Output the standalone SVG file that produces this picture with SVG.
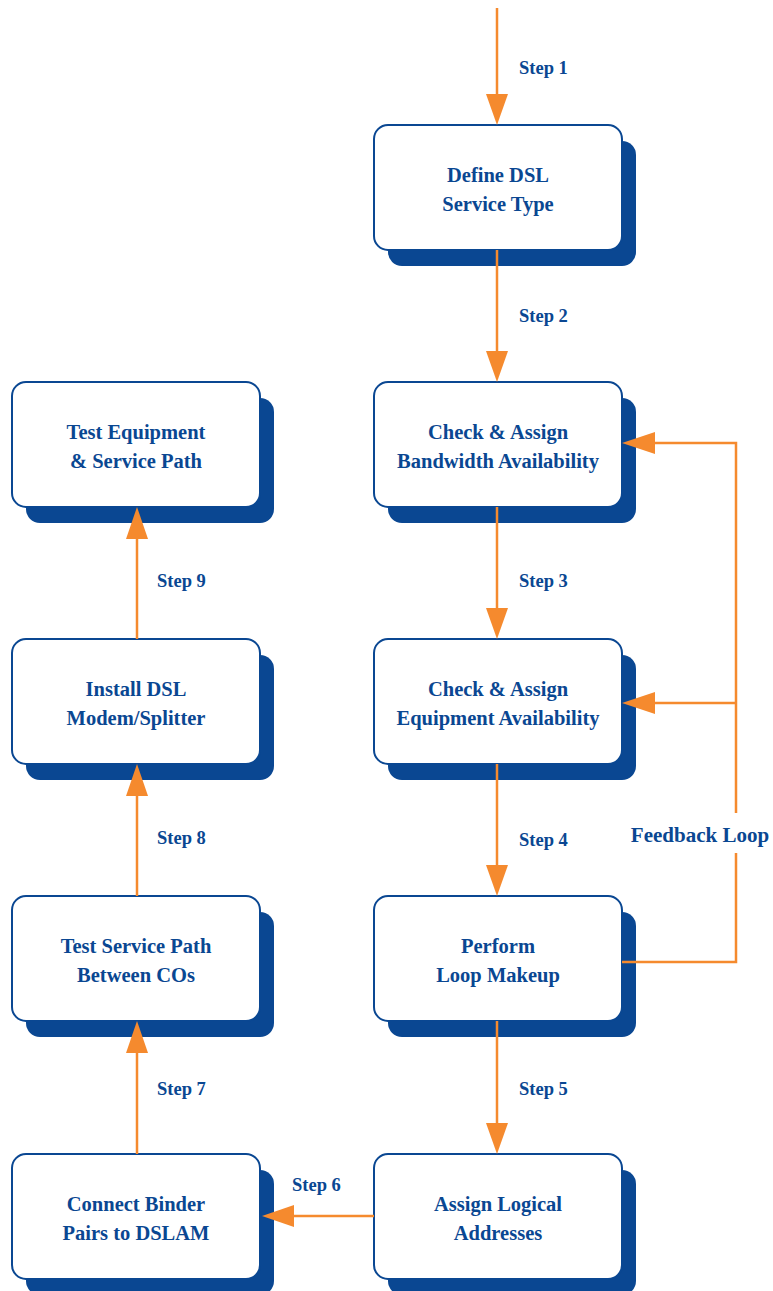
<svg xmlns="http://www.w3.org/2000/svg" width="773" height="1291" viewBox="0 0 773 1291">
<style>
.sh{fill:#0a4792}
.bx{fill:#fff;stroke:#0a4792;stroke-width:2}
.c{stroke:#f58a2e;stroke-width:2.5;fill:none}
.ah{fill:#f58a2e}
</style>
<rect width="773" height="1291" fill="#fff"/>
<g font-family="Liberation Serif, serif" font-weight="bold" font-size="20.5" fill="#0a4792" text-anchor="middle">
<g id="n1"><rect class="sh" x="388" y="141" width="248" height="125" rx="14"/><rect class="bx" x="374" y="125" width="248" height="125" rx="14"/><text x="498" y="182">Define DSL</text><text x="498" y="211">Service Type</text></g>
<g id="n2"><rect class="sh" x="388" y="398" width="248" height="125" rx="14"/><rect class="bx" x="374" y="382" width="248" height="125" rx="14"/><text x="498" y="439">Check &amp; Assign</text><text x="498" y="468">Bandwidth Availability</text></g>
<g id="n3"><rect class="sh" x="388" y="655" width="248" height="125" rx="14"/><rect class="bx" x="374" y="639" width="248" height="125" rx="14"/><text x="498" y="696">Check &amp; Assign</text><text x="498" y="725">Equipment Availability</text></g>
<g id="n4"><rect class="sh" x="388" y="912" width="248" height="125" rx="14"/><rect class="bx" x="374" y="896" width="248" height="125" rx="14"/><text x="498" y="953">Perform</text><text x="498" y="982">Loop Makeup</text></g>
<g id="n5"><rect class="sh" x="388" y="1170" width="248" height="125" rx="14"/><rect class="bx" x="374" y="1154" width="248" height="125" rx="14"/><text x="498" y="1211">Assign Logical</text><text x="498" y="1240">Addresses</text></g>
<g id="n6"><rect class="sh" x="26" y="1170" width="248" height="125" rx="14"/><rect class="bx" x="12" y="1154" width="248" height="125" rx="14"/><text x="136" y="1211">Connect Binder</text><text x="136" y="1240">Pairs to DSLAM</text></g>
<g id="n7"><rect class="sh" x="26" y="912" width="248" height="125" rx="14"/><rect class="bx" x="12" y="896" width="248" height="125" rx="14"/><text x="136" y="953">Test Service Path</text><text x="136" y="982">Between COs</text></g>
<g id="n8"><rect class="sh" x="26" y="655" width="248" height="125" rx="14"/><rect class="bx" x="12" y="639" width="248" height="125" rx="14"/><text x="136" y="696">Install DSL</text><text x="136" y="725">Modem/Splitter</text></g>
<g id="n9"><rect class="sh" x="26" y="398" width="248" height="125" rx="14"/><rect class="bx" x="12" y="382" width="248" height="125" rx="14"/><text x="136" y="439">Test Equipment</text><text x="136" y="468">&amp; Service Path</text></g>
</g>
<g id="connectors">
<line class="c" x1="497" y1="8" x2="497" y2="100"/><polygon class="ah" points="486,94 508,94 497,125"/>
<line class="c" x1="497" y1="250" x2="497" y2="357"/><polygon class="ah" points="486,351 508,351 497,382"/>
<line class="c" x1="497" y1="507" x2="497" y2="614"/><polygon class="ah" points="486,608 508,608 497,639"/>
<line class="c" x1="497" y1="764" x2="497" y2="871"/><polygon class="ah" points="486,865 508,865 497,896"/>
<line class="c" x1="497" y1="1021" x2="497" y2="1129"/><polygon class="ah" points="486,1123 508,1123 497,1154"/>
<line class="c" x1="374" y1="1216" x2="287" y2="1216"/><polygon class="ah" points="294,1205 294,1227 262,1216"/>
<line class="c" x1="137" y1="1154" x2="137" y2="1047"/><polygon class="ah" points="126,1053 148,1053 137,1021"/>
<line class="c" x1="137" y1="896" x2="137" y2="789"/><polygon class="ah" points="126,796 148,796 137,764"/>
<line class="c" x1="137" y1="639" x2="137" y2="532"/><polygon class="ah" points="126,539 148,539 137,507"/>
<polyline class="c" points="622,962 736,962 736,853"/>
<polyline class="c" points="736,813 736,443 648,443"/>
<line class="c" x1="736" y1="703" x2="648" y2="703"/>
<polygon class="ah" points="655,432 655,454 622,443"/>
<polygon class="ah" points="655,692 655,714 622,703"/>
<g font-family="Liberation Serif, serif" font-weight="bold" font-size="18.5" fill="#0a4792">
<text x="519" y="74">Step 1</text>
<text x="519" y="322">Step 2</text>
<text x="519" y="587">Step 3</text>
<text x="519" y="846">Step 4</text>
<text x="519" y="1095">Step 5</text>
<text x="292" y="1191">Step 6</text>
<text x="157" y="1095">Step 7</text>
<text x="157" y="844">Step 8</text>
<text x="157" y="587">Step 9</text>
<text x="700" y="842" text-anchor="middle" font-size="21">Feedback Loop</text>
</g>
</g>
</svg>
